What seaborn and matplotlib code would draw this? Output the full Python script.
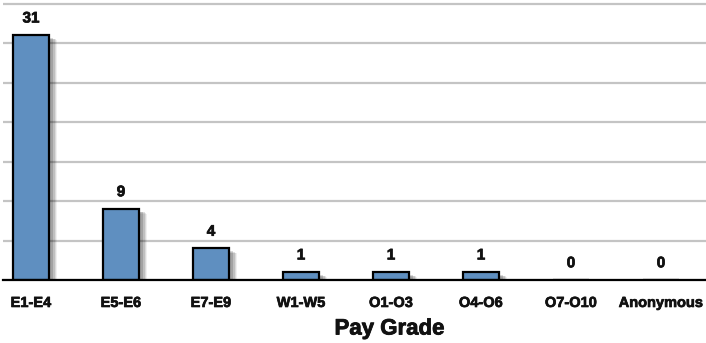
import matplotlib
matplotlib.use("Agg")
import matplotlib.pyplot as plt
import matplotlib.patheffects as pe
import seaborn as sns
import pandas as pd

# Survey responses by pay grade
grades = ["E1-E4", "E5-E6", "E7-E9", "W1-W5", "O1-O3", "O4-O6", "O7-O10", "Anonymous"]
counts = [31, 9, 4, 1, 1, 1, 0, 0]

df = pd.DataFrame({"grade": grades, "count": counts})

sns.set_theme(style="white")
plt.rcParams["font.family"] = ["Liberation Sans", "DejaVu Sans"]

W, H = 706, 343
fig = plt.figure(figsize=(W / 100, H / 100), dpi=100)
ax_left, ax_right = 3, 706
ax_top, ax_bottom = 0, 280
ax = fig.add_axes([ax_left / W, 1 - ax_bottom / H,
                   (ax_right - ax_left) / W, (ax_bottom - ax_top) / H])

sns.barplot(data=df, x="grade", y="count", ax=ax, color="#5f8fc0",
            width=0.4, edgecolor="black", linewidth=1.6, saturation=1,
            zorder=3)

# soft drop shadow behind each bar
shadow = [pe.SimplePatchShadow(offset=(6, -3.5), shadow_rgbFace="#000000", alpha=0.06),
          pe.SimplePatchShadow(offset=(5, -3), shadow_rgbFace="#000000", alpha=0.09),
          pe.SimplePatchShadow(offset=(4, -2.5), shadow_rgbFace="#000000", alpha=0.12),
          pe.SimplePatchShadow(offset=(3, -2), shadow_rgbFace="#000000", alpha=0.15),
          pe.Normal()]
for bar in ax.patches:
    bar.set_path_effects(shadow)

ax.set_xlim(-0.5 + 17 / 90, 7.5)
ax.set_ylim(0, 35.45)
ax.set_yticks(range(0, 36, 5))
ax.yaxis.grid(True, color="#c4c4c4", linewidth=1.6, zorder=0)
ax.set_axisbelow(True)
ax.tick_params(axis="y", left=False, labelleft=False)
ax.tick_params(axis="x", bottom=False, pad=5.5)
for s in ["left", "right", "top"]:
    ax.spines[s].set_visible(False)
ax.spines["bottom"].set_color("black")
ax.spines["bottom"].set_linewidth(1.6)
ax.spines["bottom"].set_zorder(4)

heavy = [pe.withStroke(linewidth=0.5, foreground="#111111")]

for lbl in ax.get_xticklabels():
    lbl.set_fontsize(10.5)
    lbl.set_fontweight("bold")
    lbl.set_color("#111111")
    lbl.set_path_effects(heavy)

for i, v in enumerate(counts):
    ax.annotate(str(v), (i, v), xytext=(0, 12), textcoords="offset points",
                ha="center", va="center", fontsize=11, fontweight="bold",
                color="#111111", path_effects=heavy)

ax.set_xlabel("")
ax.set_ylabel("")
fig.text(389.5 / W, 1 - 329 / H, "Pay Grade", ha="center", va="center",
         fontsize=16, fontweight="bold", color="#111111",
         path_effects=[pe.withStroke(linewidth=0.6, foreground="#111111")])

fig.savefig("out.png", dpi=100, facecolor="white")
